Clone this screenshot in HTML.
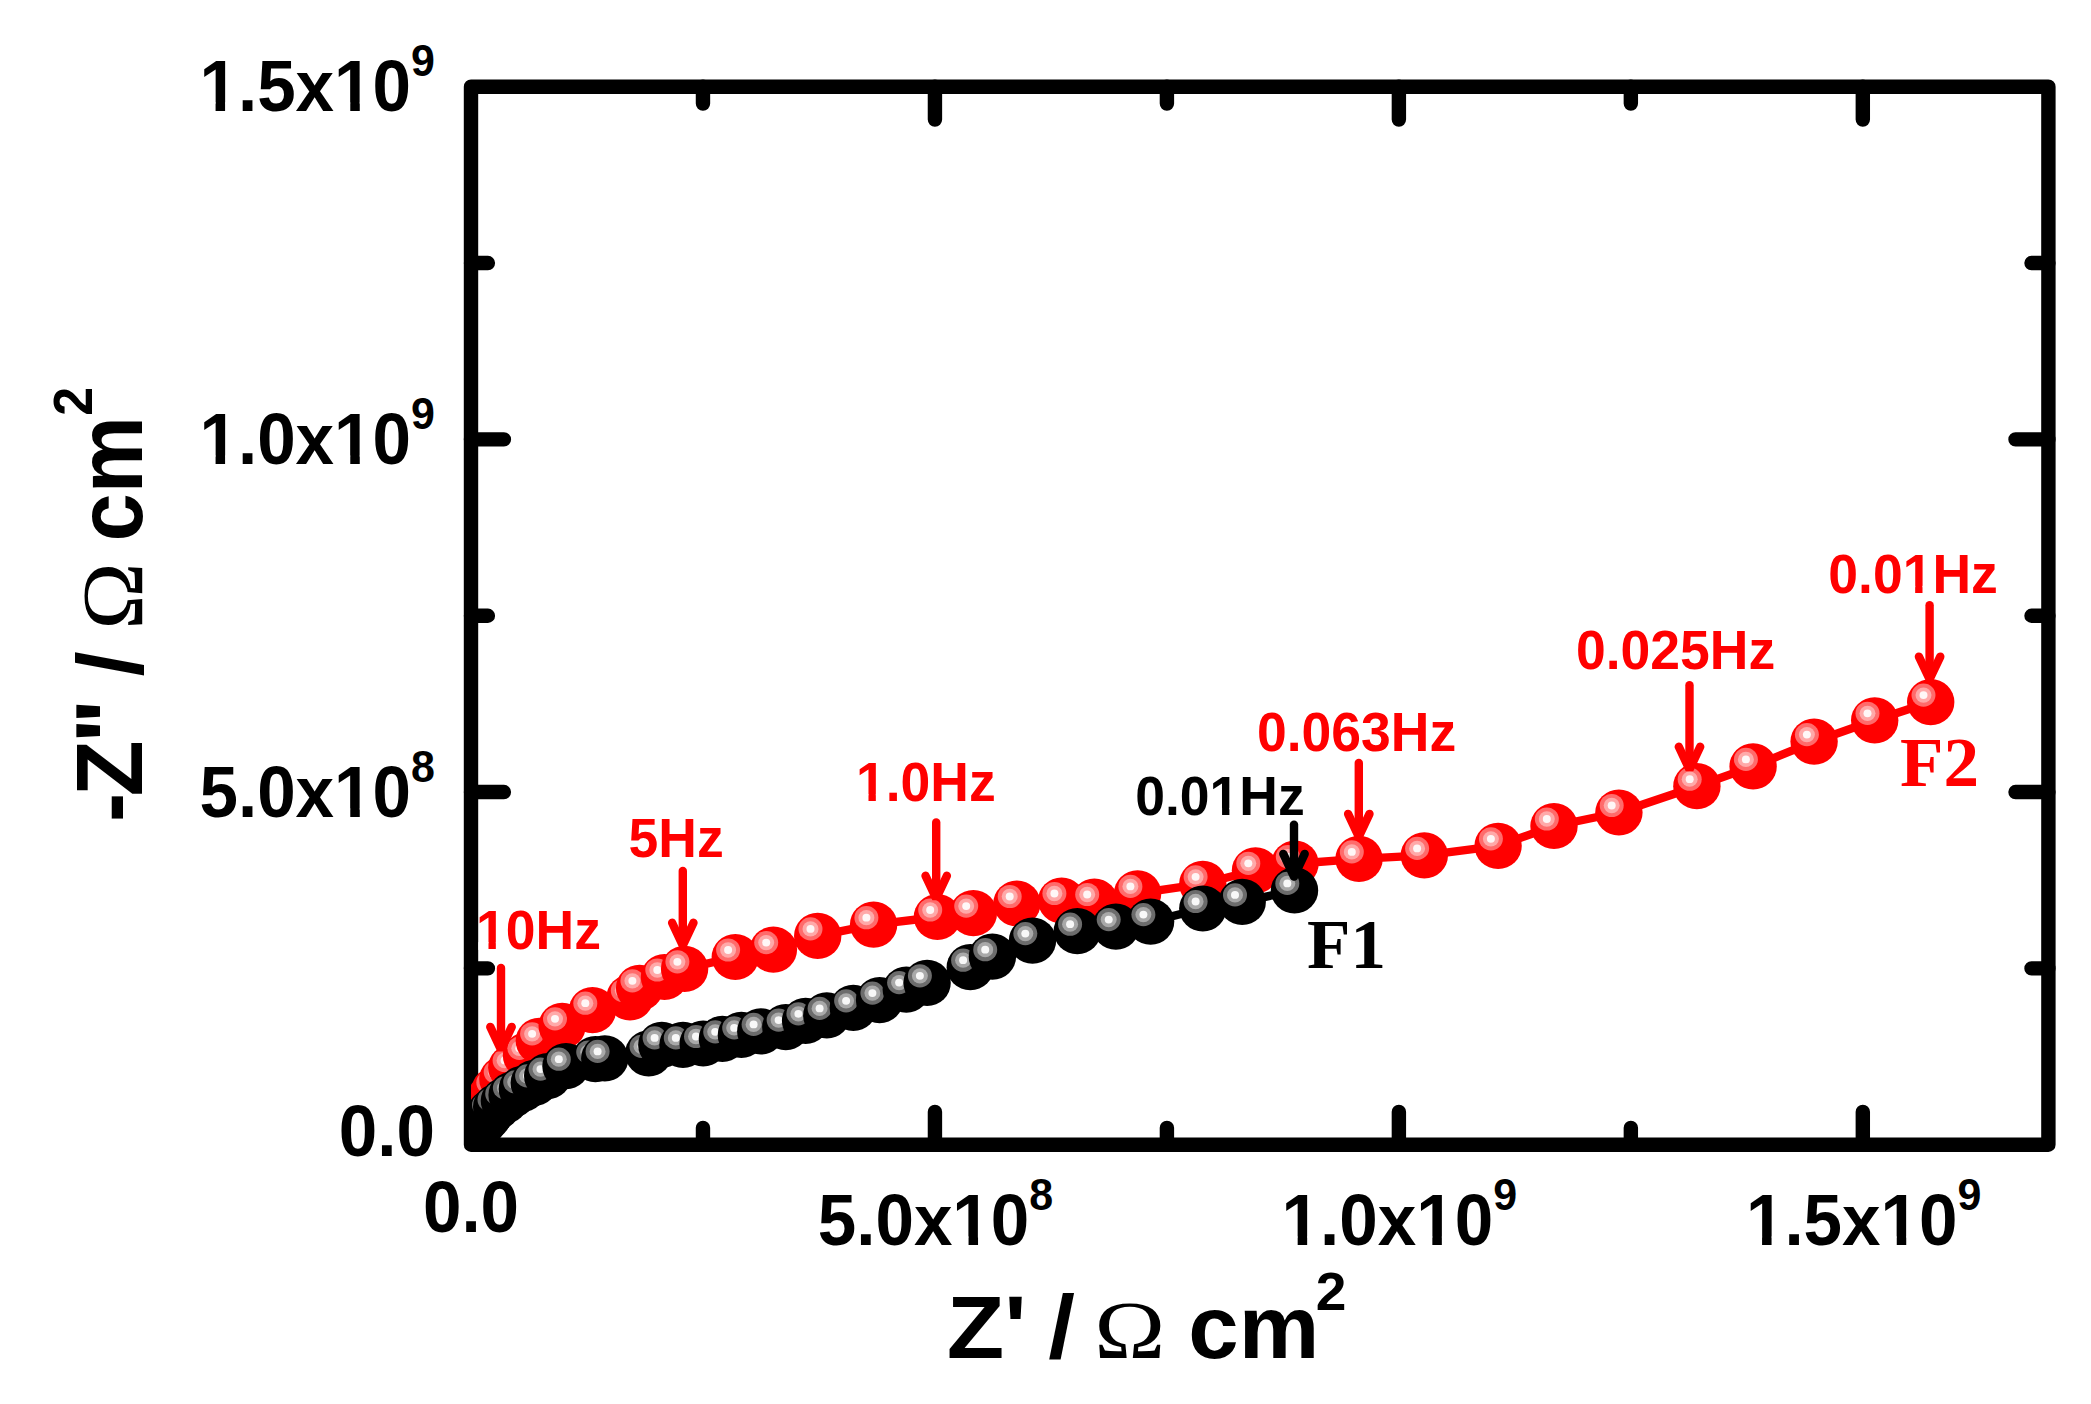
<!DOCTYPE html>
<html lang="en"><head><meta charset="utf-8"><title>Nyquist plot</title>
<style>html,body{margin:0;padding:0;background:#fff;}body{width:2091px;height:1404px;overflow:hidden;}svg{display:block;}.b{font-family:'Liberation Sans', sans-serif;font-weight:bold;}.s{font-family:'Liberation Serif', serif;font-weight:bold;}.o{font-family:'Liberation Serif', serif;font-weight:normal;}</style></head><body>
<svg width="2091" height="1404" viewBox="0 0 2091 1404">
<rect x="0" y="0" width="2091" height="1404" fill="#ffffff"/>
<defs>
<clipPath id="clip"><rect x="471.00" y="86.70" width="1577.40" height="1058.05"/></clipPath>
<g id="mr">
<ellipse cx="0" cy="0" rx="23.70" ry="23.10" fill="#ff0000"/>
<ellipse cx="-7.20" cy="-7.00" rx="12.0" ry="11.6" fill="#ff6b6b"/>
<ellipse cx="-7.20" cy="-7.00" rx="8.0" ry="7.65" fill="#ffa9a9"/>
<ellipse cx="-7.20" cy="-7.00" rx="4.0" ry="3.9" fill="#fff7f7"/>
</g>
<g id="mk">
<ellipse cx="0" cy="0" rx="23.70" ry="23.10" fill="#000000"/>
<ellipse cx="-7.20" cy="-7.00" rx="12.0" ry="11.6" fill="#6c6c6c"/>
<ellipse cx="-7.20" cy="-7.00" rx="8.0" ry="7.65" fill="#a9a9a9"/>
<ellipse cx="-7.20" cy="-7.00" rx="4.0" ry="3.9" fill="#f8f8f8"/>
</g>
</defs>
<g stroke="#000" stroke-width="14.40" stroke-linecap="round" fill="none">
<path d="M471.00 86.70 H2048.40 V1144.75 H471.00 Z" stroke-linejoin="round"/>
<path d="M702.97 1144.75 v-16.90 M702.97 86.70 v16.90"/>
<path d="M934.94 1144.75 v-32.90 M934.94 86.70 v32.90"/>
<path d="M1166.91 1144.75 v-16.90 M1166.91 86.70 v16.90"/>
<path d="M1398.88 1144.75 v-32.90 M1398.88 86.70 v32.90"/>
<path d="M1630.85 1144.75 v-16.90 M1630.85 86.70 v16.90"/>
<path d="M1862.82 1144.75 v-32.90 M1862.82 86.70 v32.90"/>
<path d="M471.00 968.41 h16.90 M2048.40 968.41 h-16.90"/>
<path d="M471.00 792.07 h32.90 M2048.40 792.07 h-32.90"/>
<path d="M471.00 615.73 h16.90 M2048.40 615.73 h-16.90"/>
<path d="M471.00 439.38 h32.90 M2048.40 439.38 h-32.90"/>
<path d="M471.00 263.04 h16.90 M2048.40 263.04 h-16.90"/>
</g>
<g clip-path="url(#clip)">
<polyline fill="none" stroke="#ff0000" stroke-width="8.4" stroke-linejoin="round" points="477.0,1122.0 480.5,1113.5 485.5,1104.5 491.3,1096.8 495.5,1089.5 502.9,1079.0 511.8,1067.5 526.5,1055.3 539.3,1040.8 562.2,1025.8 592.5,1010.2 630.0,997.5 639.6,987.8 664.5,977.0 684.6,968.8 735.3,957.0 773.4,949.6 817.7,935.9 873.6,924.7 937.4,917.0 973.4,913.1 1016.9,903.5 1061.6,900.5 1094.4,901.5 1137.6,893.4 1202.8,883.8 1255.5,870.3 1295.0,863.7 1359.0,858.9 1424.3,855.4 1498.1,845.8 1554.0,826.0 1618.9,812.5 1696.9,786.2 1753.1,766.4 1814.1,741.6 1874.7,720.3 1930.7,702.1"/>
<use href="#mr" x="477.0" y="1122.0"/>
<use href="#mr" x="480.5" y="1113.5"/>
<use href="#mr" x="485.5" y="1104.5"/>
<use href="#mr" x="491.3" y="1096.8"/>
<use href="#mr" x="495.5" y="1089.5"/>
<use href="#mr" x="502.9" y="1079.0"/>
<use href="#mr" x="511.8" y="1067.5"/>
<use href="#mr" x="526.5" y="1055.3"/>
<use href="#mr" x="539.3" y="1040.8"/>
<use href="#mr" x="562.2" y="1025.8"/>
<use href="#mr" x="592.5" y="1010.2"/>
<use href="#mr" x="630.0" y="997.5"/>
<use href="#mr" x="639.6" y="987.8"/>
<use href="#mr" x="664.5" y="977.0"/>
<use href="#mr" x="684.6" y="968.8"/>
<use href="#mr" x="735.3" y="957.0"/>
<use href="#mr" x="773.4" y="949.6"/>
<use href="#mr" x="817.7" y="935.9"/>
<use href="#mr" x="873.6" y="924.7"/>
<use href="#mr" x="937.4" y="917.0"/>
<use href="#mr" x="973.4" y="913.1"/>
<use href="#mr" x="1016.9" y="903.5"/>
<use href="#mr" x="1061.6" y="900.5"/>
<use href="#mr" x="1094.4" y="901.5"/>
<use href="#mr" x="1137.6" y="893.4"/>
<use href="#mr" x="1202.8" y="883.8"/>
<use href="#mr" x="1255.5" y="870.3"/>
<use href="#mr" x="1295.0" y="863.7"/>
<use href="#mr" x="1359.0" y="858.9"/>
<use href="#mr" x="1424.3" y="855.4"/>
<use href="#mr" x="1498.1" y="845.8"/>
<use href="#mr" x="1554.0" y="826.0"/>
<use href="#mr" x="1618.9" y="812.5"/>
<use href="#mr" x="1696.9" y="786.2"/>
<use href="#mr" x="1753.1" y="766.4"/>
<use href="#mr" x="1814.1" y="741.6"/>
<use href="#mr" x="1874.7" y="720.3"/>
<use href="#mr" x="1930.7" y="702.1"/>
<polyline fill="none" stroke="#000000" stroke-width="8.4" stroke-linejoin="round" points="471.5,1142.0 472.5,1137.0 474.5,1132.0 477.0,1128.0 480.0,1125.0 483.4,1121.7 487.5,1116.8 491.2,1112.0 496.7,1106.8 504.4,1100.8 512.1,1094.9 522.4,1088.9 534.3,1082.9 547.7,1076.1 566.0,1066.2 595.4,1059.1 604.8,1058.4 648.7,1053.4 661.8,1044.9 683.0,1044.9 703.2,1043.5 722.4,1038.8 741.4,1034.9 760.8,1031.4 785.8,1027.1 805.6,1020.8 826.8,1015.4 853.3,1007.8 879.6,1000.1 906.3,989.6 927.1,982.8 970.3,967.2 992.4,956.7 1032.5,940.6 1077.3,931.2 1115.9,926.6 1150.6,921.6 1202.8,908.5 1242.2,901.9 1294.5,890.4"/>
<use href="#mk" x="471.5" y="1142.0"/>
<use href="#mk" x="472.5" y="1137.0"/>
<use href="#mk" x="474.5" y="1132.0"/>
<use href="#mk" x="477.0" y="1128.0"/>
<use href="#mk" x="480.0" y="1125.0"/>
<use href="#mk" x="483.4" y="1121.7"/>
<use href="#mk" x="487.5" y="1116.8"/>
<use href="#mk" x="491.2" y="1112.0"/>
<use href="#mk" x="496.7" y="1106.8"/>
<use href="#mk" x="504.4" y="1100.8"/>
<use href="#mk" x="512.1" y="1094.9"/>
<use href="#mk" x="522.4" y="1088.9"/>
<use href="#mk" x="534.3" y="1082.9"/>
<use href="#mk" x="547.7" y="1076.1"/>
<use href="#mk" x="566.0" y="1066.2"/>
<use href="#mk" x="595.4" y="1059.1"/>
<use href="#mk" x="604.8" y="1058.4"/>
<use href="#mk" x="648.7" y="1053.4"/>
<use href="#mk" x="661.8" y="1044.9"/>
<use href="#mk" x="683.0" y="1044.9"/>
<use href="#mk" x="703.2" y="1043.5"/>
<use href="#mk" x="722.4" y="1038.8"/>
<use href="#mk" x="741.4" y="1034.9"/>
<use href="#mk" x="760.8" y="1031.4"/>
<use href="#mk" x="785.8" y="1027.1"/>
<use href="#mk" x="805.6" y="1020.8"/>
<use href="#mk" x="826.8" y="1015.4"/>
<use href="#mk" x="853.3" y="1007.8"/>
<use href="#mk" x="879.6" y="1000.1"/>
<use href="#mk" x="906.3" y="989.6"/>
<use href="#mk" x="927.1" y="982.8"/>
<use href="#mk" x="970.3" y="967.2"/>
<use href="#mk" x="992.4" y="956.7"/>
<use href="#mk" x="1032.5" y="940.6"/>
<use href="#mk" x="1077.3" y="931.2"/>
<use href="#mk" x="1115.9" y="926.6"/>
<use href="#mk" x="1150.6" y="921.6"/>
<use href="#mk" x="1202.8" y="908.5"/>
<use href="#mk" x="1242.2" y="901.9"/>
<use href="#mk" x="1294.5" y="890.4"/>
</g>
<g stroke="#ff0000" stroke-width="8.4" stroke-linecap="round" stroke-linejoin="bevel" fill="none">
<path d="M501.0 968.0 V1045.6"/>
<path d="M490.3 1026.9 L501.0 1049.6 L511.7 1026.9"/>
</g>
<g stroke="#ff0000" stroke-width="8.4" stroke-linecap="round" stroke-linejoin="bevel" fill="none">
<path d="M682.8 871.0 V941.5"/>
<path d="M672.1 922.8 L682.8 945.5 L693.5 922.8"/>
</g>
<g stroke="#ff0000" stroke-width="8.4" stroke-linecap="round" stroke-linejoin="bevel" fill="none">
<path d="M936.2 822.5 V894.5"/>
<path d="M925.5 875.8 L936.2 898.5 L946.9 875.8"/>
</g>
<g stroke="#ff0000" stroke-width="8.4" stroke-linecap="round" stroke-linejoin="bevel" fill="none">
<path d="M1358.8 763.0 V832.6"/>
<path d="M1348.1 813.9 L1358.8 836.6 L1369.5 813.9"/>
</g>
<g stroke="#ff0000" stroke-width="8.4" stroke-linecap="round" stroke-linejoin="bevel" fill="none">
<path d="M1689.5 685.3 V765.5"/>
<path d="M1678.8 746.8 L1689.5 769.5 L1700.2 746.8"/>
</g>
<g stroke="#ff0000" stroke-width="8.4" stroke-linecap="round" stroke-linejoin="bevel" fill="none">
<path d="M1929.6 605.2 V675.3"/>
<path d="M1918.9 656.6 L1929.6 679.3 L1940.3 656.6"/>
</g>
<g stroke="#000000" stroke-width="8.4" stroke-linecap="round" stroke-linejoin="round" fill="none">
<path d="M1294.0 824.6 V872.6"/>
<path d="M1283.3 853.9 L1294.0 876.6 L1304.7 853.9"/>
</g>
<text class="b" transform="translate(476.0 948.9) scale(1.0000 1.0350)" font-size="53.50" fill="#ff0000">10Hz</text>
<text class="b" transform="translate(628.5 857.1) scale(1.0000 1.0350)" font-size="53.50" fill="#ff0000">5Hz</text>
<text class="b" transform="translate(856.0 801.0) scale(1.0000 1.0350)" font-size="53.50" fill="#ff0000">1.0Hz</text>
<text class="b" transform="translate(1135.2 814.6) scale(1.0000 1.0350)" font-size="53.50" fill="#000000">0.01Hz</text>
<text class="b" transform="translate(1257.0 751.2) scale(1.0000 1.0350)" font-size="53.50" fill="#ff0000">0.063Hz</text>
<text class="b" transform="translate(1576.0 669.1) scale(1.0000 1.0350)" font-size="53.50" fill="#ff0000">0.025Hz</text>
<text class="b" transform="translate(1828.3 592.6) scale(1.0000 1.0350)" font-size="53.50" fill="#ff0000">0.01Hz</text>
<text class="s" transform="translate(1307.0 967.8) scale(1.0300 1.0000)" font-size="69.00" fill="#000000">F1</text>
<text class="s" transform="translate(1900.0 785.9) scale(1.0300 1.0000)" font-size="69.00" fill="#ff0000">F2</text>
<text class="b" transform="translate(199.43 110.8) scale(1 1.0350)" font-size="69.20" fill="#000">1.5x10<tspan font-size="43.00" dy="-33.4">9</tspan></text>
<text class="b" transform="translate(199.43 463.9) scale(1 1.0350)" font-size="69.20" fill="#000">1.0x10<tspan font-size="43.00" dy="-33.4">9</tspan></text>
<text class="b" transform="translate(199.43 816.8) scale(1 1.0350)" font-size="69.20" fill="#000">5.0x10<tspan font-size="43.00" dy="-33.4">8</tspan></text>
<text class="b" transform="translate(338.80 1155.6) scale(1 1.0350)" font-size="69.20" fill="#000">0.0</text>
<text class="b" transform="translate(422.90 1231.9) scale(1 1.0350)" font-size="69.20" fill="#000">0.0</text>
<text class="b" transform="translate(817.72 1244.9) scale(1 1.0350)" font-size="69.20" fill="#000">5.0x10<tspan font-size="43.00" dy="-33.4">8</tspan></text>
<text class="b" transform="translate(1281.52 1244.9) scale(1 1.0350)" font-size="69.20" fill="#000">1.0x10<tspan font-size="43.00" dy="-33.4">9</tspan></text>
<text class="b" transform="translate(1745.92 1244.9) scale(1 1.0350)" font-size="69.20" fill="#000">1.5x10<tspan font-size="43.00" dy="-33.4">9</tspan></text>
<text class="b" transform="translate(946.79 1357.60) scale(1.0750 1.0250)" font-size="87.60" fill="#000">Z'</text>
<text class="b" transform="translate(1048.26 1357.60) scale(1.1000 1.0250)" font-size="87.60" fill="#000">/</text>
<text class="o" transform="translate(1094.25 1357.60) scale(1.1650 1.0000)" font-size="82.00" fill="#000">Ω</text>
<text class="b" transform="translate(1188.25 1357.60) scale(1.0350 1.0250)" font-size="87.60" fill="#000">cm</text>
<text class="b" transform="translate(1315.69 1309.60) scale(1.0500 1.0250)" font-size="52.50" fill="#000">2</text>
<text class="b" transform="translate(142.20 821.93) rotate(-90) scale(1.0000 1.0700)" font-size="87.60" fill="#000">-</text>
<text class="b" transform="translate(142.20 796.44) rotate(-90) scale(1.0500 1.0700)" font-size="87.60" fill="#000">Z</text>
<text class="b" transform="translate(142.20 742.47) rotate(-90) scale(1.1300 1.0700)" font-size="87.60" fill="#000">'</text>
<text class="b" transform="translate(142.20 723.17) rotate(-90) scale(1.1300 1.0700)" font-size="87.60" fill="#000">'</text>
<text class="b" transform="translate(142.20 676.48) rotate(-90) scale(1.0300 1.0550)" font-size="87.60" fill="#000">/</text>
<text class="o" transform="translate(142.20 629.69) rotate(-90) scale(1.1050 1.0600)" font-size="82.00" fill="#000">Ω</text>
<text class="b" transform="translate(142.20 541.59) rotate(-90) scale(0.9900 1.0550)" font-size="87.60" fill="#000">cm</text>
<text class="b" transform="translate(92.00 415.80) rotate(-90) scale(0.9900 1.0700)" font-size="52.50" fill="#000">2</text>
<g fill="#ffffff">
<rect x="478.41" y="942.15" width="10.08" height="7.75"/>
<rect x="495.83" y="942.15" width="9.33" height="7.75"/>
<rect x="858.41" y="794.25" width="10.08" height="7.75"/>
<rect x="875.83" y="794.25" width="9.33" height="7.75"/>
<rect x="1211.98" y="807.85" width="10.08" height="7.75"/>
<rect x="1229.40" y="807.85" width="9.33" height="7.75"/>
<rect x="1905.08" y="585.85" width="10.08" height="7.75"/>
<rect x="1922.50" y="585.85" width="9.33" height="7.75"/>
<rect x="202.54" y="102.39" width="13.04" height="9.41"/>
<rect x="225.08" y="102.39" width="12.07" height="9.41"/>
<rect x="337.23" y="102.39" width="13.04" height="9.41"/>
<rect x="359.76" y="102.39" width="12.07" height="9.41"/>
<rect x="202.54" y="455.49" width="13.04" height="9.41"/>
<rect x="225.08" y="455.49" width="12.07" height="9.41"/>
<rect x="337.23" y="455.49" width="13.04" height="9.41"/>
<rect x="359.76" y="455.49" width="12.07" height="9.41"/>
<rect x="337.23" y="808.39" width="13.04" height="9.41"/>
<rect x="359.76" y="808.39" width="12.07" height="9.41"/>
<rect x="955.51" y="1236.49" width="13.04" height="9.41"/>
<rect x="978.04" y="1236.49" width="12.07" height="9.41"/>
<rect x="1284.63" y="1236.49" width="13.04" height="9.41"/>
<rect x="1307.16" y="1236.49" width="12.07" height="9.41"/>
<rect x="1419.31" y="1236.49" width="13.04" height="9.41"/>
<rect x="1441.84" y="1236.49" width="12.07" height="9.41"/>
<rect x="1749.03" y="1236.49" width="13.04" height="9.41"/>
<rect x="1771.56" y="1236.49" width="12.07" height="9.41"/>
<rect x="1883.71" y="1236.49" width="13.04" height="9.41"/>
<rect x="1906.24" y="1236.49" width="12.07" height="9.41"/>
</g>
</svg></body></html>
